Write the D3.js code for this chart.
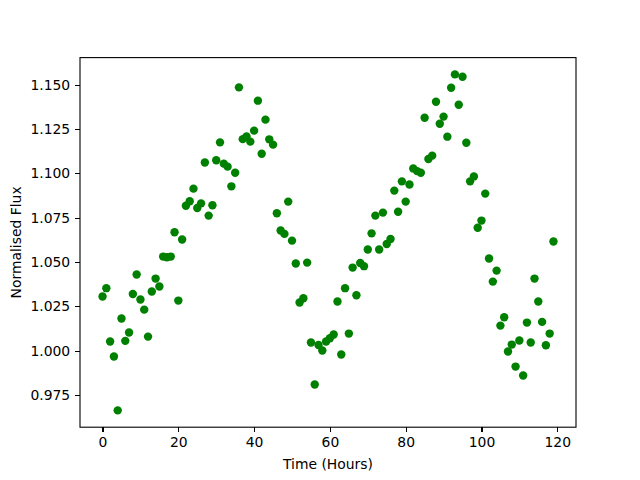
<!DOCTYPE html>
<html lang="en">
<head>
<meta charset="UTF-8">
<title>Normalised Flux</title>
<style>
    body { margin:0; background:#fff; }
    .axis path, .axis line { fill:none; stroke:black; stroke-width:1.1px; shape-rendering:crispEdges; }
    .axis text { font-family:"DejaVu Sans", sans-serif; font-size:13.9px; fill:black; }
    .label { font-family:"DejaVu Sans", sans-serif; font-size:13.9px; fill:black; }
</style>
</head>
<body>
<script src="https://cdn.jsdelivr.net/npm/d3@7"></script>
<script>
    // hours 0..119
    var hours = d3.range(0, 120);
    var flux = [
        1.0306, 1.0353, 1.0052, 0.9968, 0.9664, 1.0182, 1.0056, 1.0103, 1.0320, 1.0430,
        1.0289, 1.0232, 1.0080, 1.0334, 1.0407, 1.0362, 1.0531, 1.0527, 1.0531, 1.0668,
        1.0283, 1.0627, 1.0818, 1.0843, 1.0914, 1.0805, 1.0831, 1.1061, 1.0762, 1.0820,
        1.1074, 1.1175, 1.1055, 1.1038, 1.0927, 1.1004, 1.1485, 1.1193, 1.1208, 1.1179,
        1.1241, 1.1410, 1.1111, 1.1303, 1.1192, 1.1162, 1.0775, 1.0678, 1.0659, 1.0841,
        1.0621, 1.0492, 1.0272, 1.0296, 1.0497, 1.0047, 0.9810, 1.0033, 1.0002, 1.0052,
        1.0071, 1.0092, 1.0278, 0.9979, 1.0353, 1.0097, 1.0469, 1.0313, 1.0495, 1.0477,
        1.0571, 1.0662, 1.0762, 1.0571, 1.0779, 1.0602, 1.0630, 1.0903, 1.0784, 1.0955,
        1.0841, 1.0937, 1.1028, 1.1013, 1.1004, 1.1314, 1.1081, 1.1100, 1.1404, 1.1280,
        1.1320, 1.1207, 1.1483, 1.1558, 1.1387, 1.1545, 1.1173, 1.0955, 1.0983, 1.0694,
        1.0734, 1.0886, 1.0520, 1.0390, 1.0452, 1.0142, 1.0189, 0.9996, 1.0035, 0.9911,
        1.0058, 0.9861, 1.0159, 1.0047, 1.0407, 1.0278, 1.0163, 1.0031, 1.0097, 1.0616
    ];
    var xTicks = [0, 20, 40, 60, 80, 100, 120];
    var yTicks = [0.975, 1.000, 1.025, 1.050, 1.075, 1.100, 1.125, 1.150];

    var w = 640, h = 480;
    var padL = 80, padR = 576, padT = 57.6, padB = 427.2;

    var dataset = hours.map(function (d, i) { return [d, flux[i]]; });

    // matplotlib style 5% margins
    var xMin = d3.min(hours), xMax = d3.max(hours);
    var yMin = d3.min(flux), yMax = d3.max(flux);
    var xPad = (xMax - xMin) * 0.05, yPad = (yMax - yMin) * 0.05;

    var xScale = d3.scaleLinear().domain([xMin - xPad, xMax + xPad]).range([padL, padR]);
    var yScale = d3.scaleLinear().domain([yMin - yPad, yMax + yPad]).range([padB, padT]);

    var svg = d3.select("body").append("svg").attr("width", w).attr("height", h);

    svg.append("g").selectAll("circle")
        .data(dataset)
        .enter()
        .append("circle")
        .attr("cx", function (d) { return xScale(d[0]); })
        .attr("cy", function (d) { return yScale(d[1]); })
        .attr("r", 4.2)
        .attr("fill", "#008000");

    var xAxis = d3.axisBottom(xScale).tickValues(xTicks).tickSize(4.9).tickPadding(4.9).tickFormat(d3.format("d"));
    var yAxis = d3.axisLeft(yScale).tickValues(yTicks).tickSize(4.9).tickPadding(4.9).tickFormat(d3.format(".3f"));

    svg.append("g").attr("class", "axis").attr("transform", "translate(0," + padB + ")").call(xAxis);
    svg.append("g").attr("class", "axis").attr("transform", "translate(" + padL + ",0)").call(yAxis);

    svg.selectAll(".axis .domain").remove();

    // frame (all four spines)
    svg.append("rect")
        .attr("x", padL).attr("y", padT)
        .attr("width", padR - padL).attr("height", padB - padT)
        .attr("fill", "none").attr("stroke", "black").attr("stroke-width", 1.1);

    svg.append("text").attr("class", "label")
        .attr("x", (padL + padR) / 2).attr("y", 469)
        .attr("text-anchor", "middle")
        .text("Time (Hours)");

    svg.append("text").attr("class", "label")
        .attr("transform", "translate(21," + ((padT + padB) / 2) + ") rotate(-90)")
        .attr("text-anchor", "middle")
        .text("Normalised Flux");
</script>
</body>
</html>
